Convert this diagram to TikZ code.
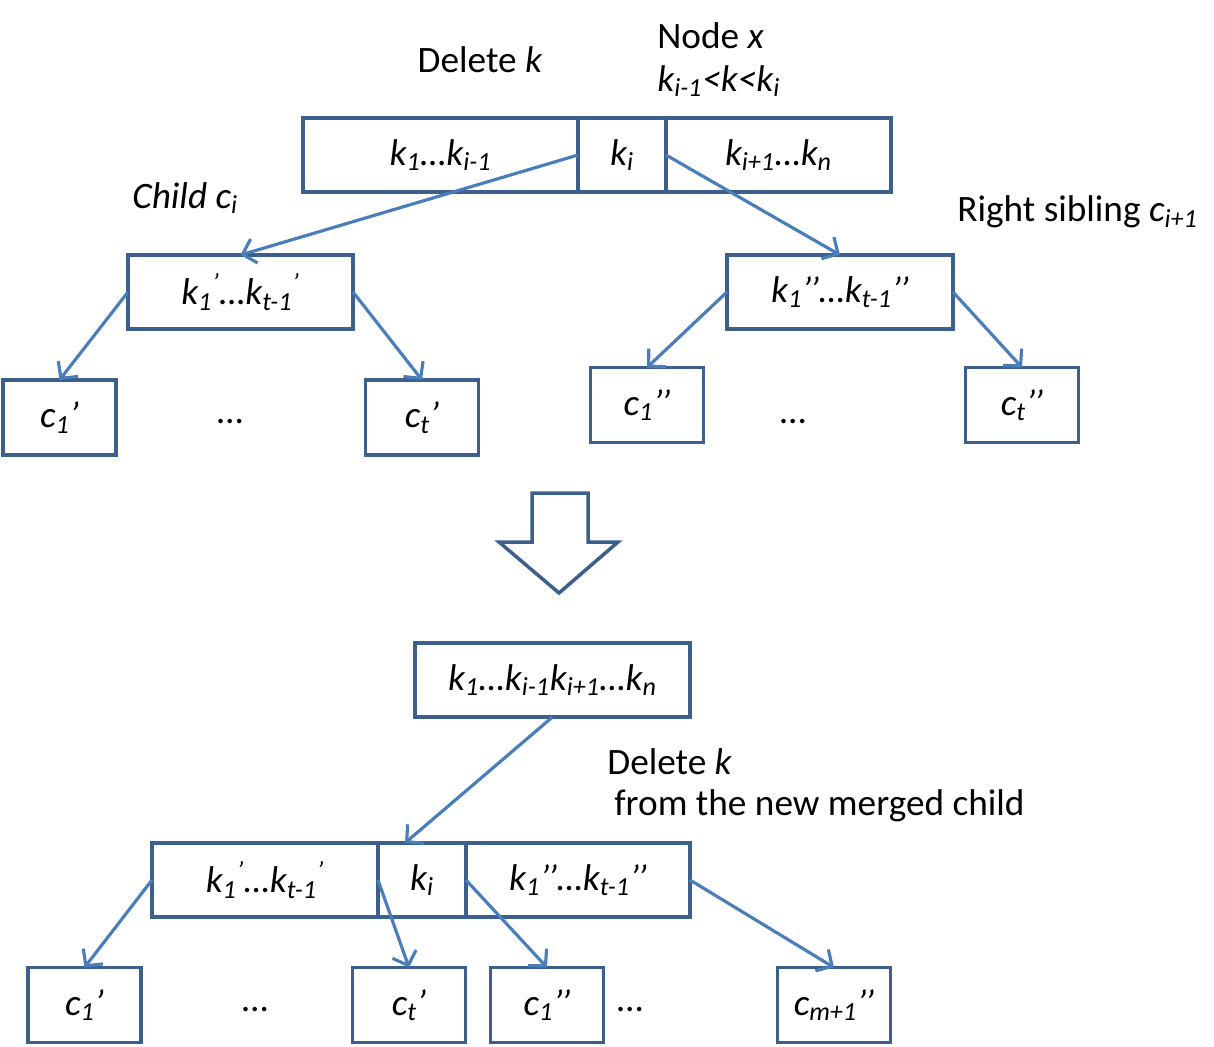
\documentclass[tikz,border=0pt]{standalone}
\usepackage{fontspec}
\setmainfont{Carlito}
\usetikzlibrary{positioning, arrows.meta}
\definecolor{boxblue}{HTML}{3C5F8D}
\definecolor{linkblue}{HTML}{4A7EBB}
\newcommand{\dpr}{’\kern-0.04em’}

\begin{document}
\begin{tikzpicture}[every node/.style={font=\fontsize{21.2}{25}\selectfont},
  key/.style={draw=boxblue, line width=2pt, minimum height=1.48cm, outer sep=0pt, inner sep=0pt, font=\fontsize{21.2}{25}\selectfont\itshape},
  leaf/.style={key, minimum width=2.26cm, minimum height=1.5cm},
  link/.style={-{Straight Barb[length=2.4mm, width=5mm]}, linkblue, line width=1.8pt},
  note/.style={inner sep=0pt, anchor=west}]

			\useasboundingbox (0,0) rectangle (24.28,-20.92);
			% Node x, top row
			\node[key, minimum width=5.5cm] (xleft) at (8.81,-3.1) {k\textsubscript{1}…k\textsubscript{i-1}};
			\node[key, minimum width=1.76cm] (xki) at (12.44,-3.1) {k\textsubscript{i}};
			\node[key, minimum width=4.5cm] (xright) at (15.57,-3.1) {k\textsubscript{i+1}…k\textsubscript{n}};
			% Children of x
			\node[key, minimum width=4.5cm] (lchild) at (4.81,-5.84) {k\textsubscript{1}\textsuperscript{’}…k\textsubscript{t-1}\textsuperscript{’}};
			\node[key, minimum width=4.52cm] (rchild) at (16.8,-5.84) {k\textsubscript{1}\dpr…k\textsubscript{t-1}\dpr};
			% Leaves upper half
			\node[leaf] (lc1) at (1.19,-8.35) {c\textsubscript{1}’};
			\node[leaf] (lct) at (8.44,-8.35) {c\textsubscript{t}’};
			\node[leaf] (rc1) at (12.94,-8.1) {c\textsubscript{1}\dpr};
			\node[leaf] (rct) at (20.44,-8.1) {c\textsubscript{t}\dpr};
			\node[anchor=base] (ldots) at (4.6,-8.46) {…};
			\node[anchor=base] (rdots) at (15.86,-8.46) {…};
			% Labels upper half
			\node (delk) at (9.6,-1.2) {Delete \textit{k}};
			\node[note] (nodex) at (13.14,-0.72) {Node \textit{x}};
			\node[note] (range) at (13.14,-1.62) {\textit{k\textsubscript{i-1}<k<k\textsubscript{i}}};
			\node[note] (childlbl) at (2.64,-3.96) {\textit{Child c\textsubscript{i}}};
			\node[note] (siblbl) at (19.14,-4.24) {Right sibling \textit{c\textsubscript{i+1}}};
			% Arrows upper half
			\draw[link] (xki.west) -- (lchild.north);
			\draw[link] (xki.east) -- (rchild.north);
			\draw[link] (lchild.west) -- (lc1.north);
			\draw[link] (lchild.east) -- (lct.north);
			\draw[link] (rchild.west) -- (rc1.north);
			\draw[link] (rchild.east) -- (rct.north);
			% Big down arrow
			\draw[boxblue, line width=2pt] (10.64,-9.86) -- (11.76,-9.86) -- (11.76,-10.84) -- (12.36,-10.84)
				-- (11.18,-11.86) -- (9.98,-10.84) -- (10.64,-10.84) -- cycle;
			% Lower half
			\node[key, minimum width=5.5cm] (merged) at (11.05,-13.6) {k\textsubscript{1}…k\textsubscript{i-1}k\textsubscript{i+1}…k\textsubscript{n}};
			\node[key, minimum width=4.52cm] (bleft) at (5.3,-17.6) {k\textsubscript{1}\textsuperscript{’}…k\textsubscript{t-1}\textsuperscript{’}};
			\node[key, minimum width=1.76cm] (bki) at (8.44,-17.6) {k\textsubscript{i}};
			\node[key, minimum width=4.48cm] (bright) at (11.56,-17.6) {k\textsubscript{1}\dpr…k\textsubscript{t-1}\dpr};
			\node[leaf] (bc1) at (1.69,-20.1) {c\textsubscript{1}’};
			\node[leaf] (bct) at (8.18,-20.1) {c\textsubscript{t}’};
			\node[leaf] (bc1pp) at (10.94,-20.1) {c\textsubscript{1}\dpr};
			\node[leaf] (bcm) at (16.68,-20.1) {c\textsubscript{m+1}\dpr};
			\node[anchor=base] (bdots1) at (5.1,-20.22) {…};
			\node[anchor=base] (bdots2) at (12.6,-20.22) {…};
			\node[note] (delk2) at (12.14,-15.24) {Delete \textit{k}};
			\node[note] (merglbl) at (12.28,-16.12) {from the new merged child};
			% Arrows lower half
			\draw[link] (merged.south) -- ([xshift=-0.34cm]bki.north);
			\draw[link] (bleft.west) -- (bc1.north);
			\draw[link] (bki.west) -- (bct.north);
			\draw[link] (bki.east) -- (bc1pp.north);
			\draw[link] (bright.east) -- (bcm.north);
\end{tikzpicture}
\end{document}
